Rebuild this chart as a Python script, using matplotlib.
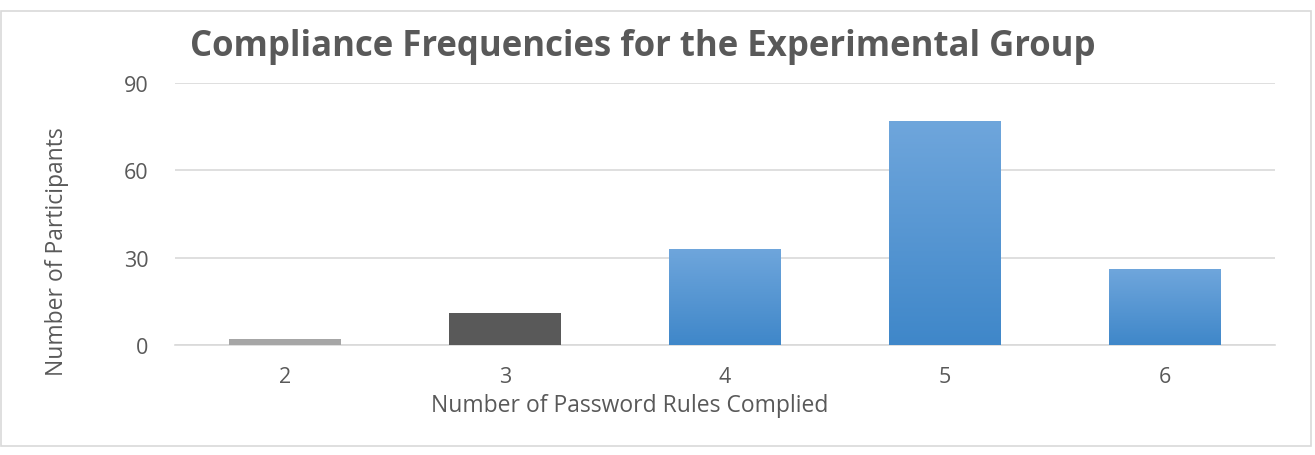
import matplotlib
matplotlib.use("Agg")
import matplotlib.pyplot as plt
import numpy as np
from matplotlib.patches import Rectangle
from matplotlib.colors import LinearSegmentedColormap

categories = ["2", "3", "4", "5", "6"]
values = [2, 11, 33, 77, 26]
colors = ["#a6a6a6", "#595959", "#5b9bd5", "#5b9bd5", "#5b9bd5"]
yticks = [0, 30, 60, 90]

plt.rcParams['font.family'] = ['Open Sans', 'DejaVu Sans']
W, H = 1315, 456
fig = plt.figure(figsize=(W / 100, H / 100), dpi=100)
fig.patch.set_facecolor("white")

# outer chart border
fig.add_artist(Rectangle((0.5 / W, 1 - 447 / H), 1310 / W, 435 / H,
                         transform=fig.transFigure, fill=False,
                         edgecolor="#d9d9d9", linewidth=1.2))

ax = fig.add_axes([175 / W, 1 - 346 / H, 1100 / W, (346 - 84) / H])
x = np.arange(len(categories))
bars = ax.bar(x, values, width=0.505, color=colors, zorder=3,
              edgecolor="none")

# gradient on blue bars
grad = np.linspace(0, 1, 256).reshape(-1, 1)
cmap = LinearSegmentedColormap.from_list("g", ["#3f87c9", "#6fa6dc"])
for b, c in zip(bars, colors):
    if c == "#5b9bd5":
        bx, by = b.get_x(), b.get_y()
        bw, bh = b.get_width(), b.get_height()
        im = ax.imshow(grad, extent=[bx, bx + bw, by, by + bh], origin="lower",
                       cmap=cmap, aspect="auto", zorder=4)
        im.set_clip_path(b)

ax.set_xlim(-0.5, len(categories) - 0.5)
ax.set_ylim(0, 90)
ax.set_yticks(yticks)
ax.set_xticks(x)
ax.set_xticklabels(categories)
ax.yaxis.grid(True, color="#d9d9d9", linewidth=1.2, zorder=0)
ax.set_axisbelow(True)
for s in ["top", "right", "left"]:
    ax.spines[s].set_visible(False)
ax.spines["bottom"].set_color("#d9d9d9")
ax.spines["bottom"].set_linewidth(1.2)
ax.tick_params(axis="both", length=0, labelsize=15.5, labelcolor="#595959")
ax.tick_params(axis="y", pad=19)
ax.tick_params(axis="x", pad=15)

ax.set_xlabel("Number of Password Rules Complied", fontsize=16.5,
              color="#595959", va="center")
ax.xaxis.set_label_coords((630 - 175) / 1100, (346 - 406) / 262)
ax.set_ylabel("Number of Participants", fontsize=16.5, color="#595959",
              va="center")
ax.yaxis.set_label_coords((57 - 175) / 1100, (346 - 252) / 262)

fig.text(643 / W, 1 - 47 / H, "Compliance Frequencies for the Experimental Group",
         ha="center", va="center", fontsize=25, fontweight="bold",
         color="#595959")

fig.savefig("out.png", dpi=100, facecolor="white")
